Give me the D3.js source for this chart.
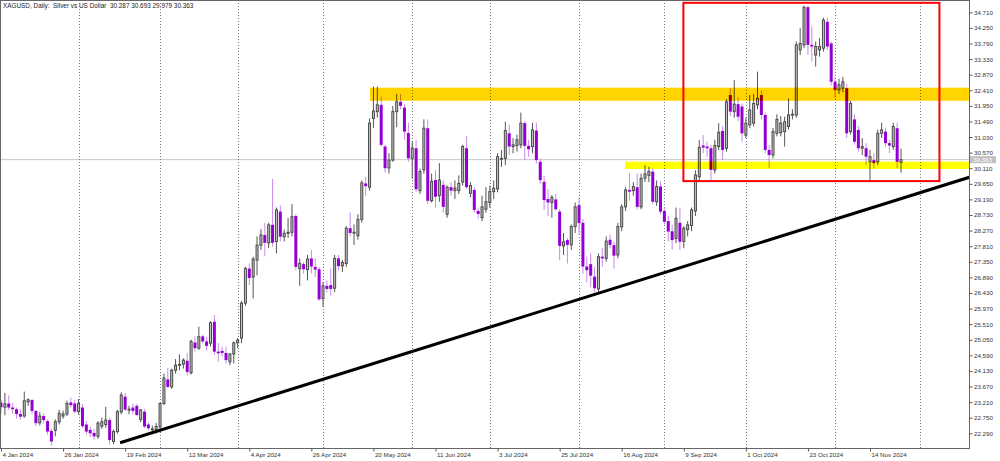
<!DOCTYPE html>
<html><head><meta charset="utf-8">
<script src="https://cdn.jsdelivr.net/npm/d3@7"></script>
<style>
html,body{margin:0;padding:0;background:#fff;}
svg{display:block;font-family:"Liberation Sans",Arial,sans-serif;}
</style></head><body>
<svg id="chart" width="1000" height="461"></svg>
<script>
const dates = [
"2024-01-04","2024-01-05","2024-01-08","2024-01-09","2024-01-10","2024-01-11","2024-01-12","2024-01-15","2024-01-16","2024-01-17",
"2024-01-18","2024-01-19","2024-01-22","2024-01-23","2024-01-24","2024-01-25","2024-01-26","2024-01-29","2024-01-30","2024-01-31",
"2024-02-01","2024-02-02","2024-02-05","2024-02-06","2024-02-07","2024-02-08","2024-02-09","2024-02-12","2024-02-13","2024-02-14",
"2024-02-15","2024-02-16","2024-02-19","2024-02-20","2024-02-21","2024-02-22","2024-02-23","2024-02-26","2024-02-27","2024-02-28",
"2024-02-29","2024-03-01","2024-03-04","2024-03-05","2024-03-06","2024-03-07","2024-03-08","2024-03-11","2024-03-12","2024-03-13",
"2024-03-14","2024-03-15","2024-03-18","2024-03-19","2024-03-20","2024-03-21","2024-03-22","2024-03-25","2024-03-26","2024-03-27",
"2024-03-28","2024-04-01","2024-04-02","2024-04-03","2024-04-04","2024-04-05","2024-04-08","2024-04-09","2024-04-10","2024-04-11",
"2024-04-12","2024-04-15","2024-04-16","2024-04-17","2024-04-18","2024-04-19","2024-04-22","2024-04-23","2024-04-24","2024-04-25",
"2024-04-26","2024-04-29","2024-04-30","2024-05-01","2024-05-02","2024-05-03","2024-05-06","2024-05-07","2024-05-08","2024-05-09",
"2024-05-10","2024-05-13","2024-05-14","2024-05-15","2024-05-16","2024-05-17","2024-05-20","2024-05-21","2024-05-22","2024-05-23",
"2024-05-24","2024-05-27","2024-05-28","2024-05-29","2024-05-30","2024-05-31","2024-06-03","2024-06-04","2024-06-05","2024-06-06",
"2024-06-07","2024-06-10","2024-06-11","2024-06-12","2024-06-13","2024-06-14","2024-06-17","2024-06-18","2024-06-19","2024-06-20",
"2024-06-21","2024-06-24","2024-06-25","2024-06-26","2024-06-27","2024-06-28","2024-07-01","2024-07-02","2024-07-03","2024-07-04",
"2024-07-05","2024-07-08","2024-07-09","2024-07-10","2024-07-11","2024-07-12","2024-07-15","2024-07-16","2024-07-17","2024-07-18",
"2024-07-19","2024-07-22","2024-07-23","2024-07-24","2024-07-25","2024-07-26","2024-07-29","2024-07-30","2024-07-31","2024-08-01",
"2024-08-02","2024-08-05","2024-08-06","2024-08-07","2024-08-08","2024-08-09","2024-08-12","2024-08-13","2024-08-14","2024-08-15",
"2024-08-16","2024-08-19","2024-08-20","2024-08-21","2024-08-22","2024-08-23","2024-08-26","2024-08-27","2024-08-28","2024-08-29",
"2024-08-30","2024-09-02","2024-09-03","2024-09-04","2024-09-05","2024-09-06","2024-09-09","2024-09-10","2024-09-11","2024-09-12",
"2024-09-13","2024-09-16","2024-09-17","2024-09-18","2024-09-19","2024-09-20","2024-09-23","2024-09-24","2024-09-25","2024-09-26",
"2024-09-27","2024-09-30","2024-10-01","2024-10-02","2024-10-03","2024-10-04","2024-10-07","2024-10-08","2024-10-09","2024-10-10",
"2024-10-11","2024-10-14","2024-10-15","2024-10-16","2024-10-17","2024-10-18","2024-10-21","2024-10-22","2024-10-23","2024-10-24",
"2024-10-25","2024-10-28","2024-10-29","2024-10-30","2024-10-31","2024-11-01","2024-11-04","2024-11-05","2024-11-06","2024-11-07",
"2024-11-08","2024-11-11","2024-11-12","2024-11-13","2024-11-14","2024-11-15","2024-11-18","2024-11-19","2024-11-20","2024-11-21",
"2024-11-22","2024-11-25","2024-11-26"];

const opens = [
23.20,23.06,23.17,23.05,23.00,22.86,22.80,23.22,23.27,22.95,
22.60,22.80,22.65,22.36,22.38,22.63,22.80,22.86,23.20,23.17,
22.93,23.05,22.55,22.39,22.30,22.20,22.50,22.55,22.68,22.05,
22.34,22.92,23.37,22.99,23.05,23.10,22.70,22.93,22.55,22.40,
22.40,22.48,23.17,23.88,23.66,24.15,24.30,24.33,24.43,24.08,
24.97,24.80,25.15,25.00,24.95,25.58,24.70,24.72,24.66,24.40,
24.63,24.96,25.10,26.13,27.15,26.90,27.40,27.84,28.14,27.91,
28.44,27.95,28.83,28.09,28.19,28.22,28.70,27.15,27.28,27.12,
27.45,27.20,27.13,26.27,26.64,26.66,26.57,27.45,27.23,27.30,
28.34,28.20,28.12,28.60,29.66,29.55,31.58,31.78,31.98,30.75,
30.12,30.35,31.78,32.07,31.90,31.15,30.40,30.70,29.45,30.06,
31.29,29.15,29.76,29.30,29.62,28.75,29.55,29.45,29.45,29.70,
30.70,29.37,29.47,28.85,28.65,28.90,29.10,29.42,29.50,30.38,
30.40,31.14,30.75,30.78,30.80,31.44,30.77,30.75,31.22,30.30,
29.71,29.20,29.10,29.19,28.83,27.82,27.99,27.85,28.39,29.02,
28.50,27.21,27.28,26.91,26.55,27.50,27.45,28.00,27.84,27.55,
28.38,28.97,29.47,29.45,29.55,28.97,29.82,29.90,30.01,29.12,
29.57,28.85,28.55,28.25,28.04,28.50,27.95,28.30,28.42,28.85,
29.86,30.78,30.75,30.70,30.06,30.75,31.21,30.70,32.27,31.78,
32.00,31.93,31.09,31.39,31.44,31.98,32.27,31.68,30.65,30.50,
31.14,31.16,31.19,31.34,31.68,31.68,33.60,33.75,34.86,33.75,
33.45,33.60,33.65,34.43,33.79,32.66,32.42,32.47,32.47,31.19,
31.55,31.24,30.70,30.70,30.30,30.35,30.30,31.14,31.19,30.85,
30.75,31.29,30.287];

const highs = [
23.28,23.48,23.41,23.18,23.05,23.00,23.52,23.32,23.30,22.98,
22.92,22.88,22.70,22.42,22.70,22.98,22.96,23.25,23.35,23.28,
23.30,23.15,22.65,22.50,22.42,22.65,22.75,23.07,22.75,22.40,
22.98,23.50,23.48,23.10,23.17,23.15,23.00,23.00,22.62,22.52,
22.60,23.20,24.05,24.22,24.20,24.48,24.62,24.50,24.65,25.05,
25.15,25.44,25.20,25.14,25.60,25.78,24.95,24.85,24.85,24.65,
25.00,25.10,26.20,27.20,27.30,27.50,28.10,28.31,28.50,28.50,
29.79,28.95,29.02,28.30,28.64,29.05,28.75,27.45,27.35,27.55,
27.70,27.45,27.20,26.75,26.80,27.15,27.55,27.55,27.40,28.40,
28.80,28.45,28.75,29.75,29.85,31.58,32.52,32.52,32.22,30.80,
30.55,31.95,32.30,32.30,32.00,31.45,30.90,30.95,30.10,31.55,
31.55,29.95,30.05,30.26,29.75,29.60,29.70,29.75,29.90,30.80,
31.05,29.70,29.55,28.95,29.30,29.55,29.60,29.75,30.55,30.65,
31.48,31.40,31.00,31.10,31.75,31.50,30.95,31.45,31.45,30.40,
29.88,29.50,29.32,29.35,28.90,28.20,28.05,28.45,29.10,29.25,
28.62,27.50,27.60,27.20,27.60,27.75,28.10,28.15,27.95,28.50,
29.05,29.55,29.96,29.70,29.95,29.95,30.20,30.15,30.10,29.75,
29.72,28.95,28.70,28.45,28.95,28.95,28.40,28.55,28.95,30.05,
30.94,31.09,30.89,30.80,30.95,31.44,31.35,32.15,32.47,32.71,
32.20,32.02,31.60,32.27,32.30,32.96,32.40,31.75,30.80,31.30,
31.70,31.65,31.63,32.17,31.85,33.85,34.24,34.90,34.90,34.29,
33.85,33.95,34.55,34.55,33.85,32.80,32.75,32.80,32.60,32.10,
31.70,31.35,31.00,30.85,30.65,30.55,31.25,31.45,31.30,30.95,
31.45,31.45,30.693];

const lows = [
22.88,22.82,22.98,22.86,22.73,22.70,22.75,23.10,22.85,22.50,
22.52,22.58,22.25,21.93,22.20,22.55,22.72,22.80,23.05,22.88,
22.85,22.45,22.25,22.18,22.10,22.12,22.42,22.45,21.95,21.97,
22.28,22.85,22.95,22.85,22.85,22.80,22.62,22.45,22.38,22.30,
22.28,22.31,23.12,23.62,23.60,24.05,24.15,24.20,24.00,24.02,
24.70,24.75,24.95,24.73,24.85,24.60,24.40,24.55,24.35,24.30,
24.35,24.80,24.95,26.05,26.66,26.27,26.95,27.70,27.52,27.75,
27.80,27.60,27.95,27.95,28.05,28.10,27.10,26.64,27.00,26.80,
27.00,26.90,26.20,26.02,26.45,26.35,26.45,27.10,27.05,27.20,
28.10,27.85,28.00,28.50,29.30,29.45,31.30,31.60,30.75,29.98,
29.95,30.30,31.32,31.85,30.95,30.30,29.80,29.40,29.35,29.95,
29.05,29.10,28.95,29.12,28.80,28.65,29.30,29.20,29.35,29.60,
29.50,29.25,28.80,28.62,28.55,28.80,28.95,29.20,29.40,30.15,
30.20,30.50,30.55,30.60,30.70,30.35,30.45,30.55,30.25,29.65,
28.88,28.70,28.65,28.85,27.40,27.55,27.30,27.70,28.20,28.15,
27.00,26.75,26.60,26.45,26.42,27.20,27.35,27.75,27.15,27.45,
28.25,28.85,29.15,29.30,28.90,28.90,29.70,29.70,29.05,29.00,
28.75,28.45,27.95,27.70,27.90,27.70,27.75,28.10,28.25,28.70,
29.75,30.55,30.45,29.76,29.95,30.65,30.35,30.60,31.65,31.60,
31.50,30.89,31.00,31.30,31.35,31.85,31.55,30.55,30.11,30.40,
31.05,31.05,30.75,31.25,31.55,31.60,33.45,33.65,33.45,33.25,
33.11,33.40,33.55,33.60,32.55,32.20,32.30,32.35,31.00,31.10,
30.80,30.60,30.50,30.21,29.71,30.10,30.20,31.00,30.75,30.55,
30.65,30.11,29.979];

const closes = [
23.06,23.16,23.05,23.00,22.86,22.78,23.25,23.28,22.95,22.59,
22.80,22.68,22.34,22.05,22.63,22.88,22.86,23.17,23.12,22.93,
23.17,22.50,22.34,22.29,22.20,22.59,22.63,22.68,22.09,22.34,
22.93,23.42,22.99,23.00,22.95,22.83,22.98,22.49,22.44,22.42,
22.49,23.17,23.92,23.66,24.15,24.30,24.32,24.45,24.10,25.00,
24.80,25.14,25.00,24.87,25.55,24.70,24.65,24.66,24.45,24.63,
24.96,25.04,26.13,27.15,26.87,27.43,27.84,28.14,27.91,28.44,
27.91,28.88,28.09,28.19,28.22,28.68,27.20,27.30,27.13,27.43,
27.21,27.12,26.24,26.64,26.55,26.55,27.45,27.22,27.33,28.34,
28.20,28.22,28.60,29.68,29.58,31.44,31.80,31.98,30.80,30.11,
30.35,31.78,32.07,31.95,31.19,30.40,30.70,29.49,30.01,31.29,
29.15,29.72,29.27,29.76,28.97,29.55,29.45,29.52,29.66,30.75,
29.55,29.60,28.88,28.76,28.97,29.12,29.42,29.52,30.45,30.40,
31.22,30.75,30.80,30.95,31.44,30.77,30.67,31.24,30.35,29.76,
29.17,29.10,29.25,28.90,27.82,27.94,27.85,28.39,28.97,28.49,
27.21,27.10,26.94,26.57,27.50,27.45,27.96,27.85,27.53,28.39,
28.97,29.47,29.42,29.57,28.97,29.81,29.94,30.01,29.12,29.57,
28.83,28.53,28.24,27.99,28.63,27.94,28.34,28.44,28.88,29.91,
30.72,30.72,30.70,30.06,30.78,31.17,30.65,32.07,31.78,32.00,
31.63,31.14,31.44,31.83,32.02,32.17,31.68,30.65,30.50,31.19,
31.55,31.44,31.48,31.68,31.70,33.75,33.79,34.86,33.75,33.70,
33.70,33.70,34.48,33.70,32.66,32.42,32.57,32.66,31.14,32.02,
30.89,30.70,30.75,30.45,30.45,30.26,31.14,31.24,30.85,30.78,
31.34,30.30,30.363];

const xTickLabels = ["4 Jan 2024","26 Jan 2024","19 Feb 2024","12 Mar 2024","4 Apr 2024","26 Apr 2024","20 May 2024","11 Jun 2024","3 Jul 2024","25 Jul 2024","16 Aug 2024","9 Sep 2024","1 Oct 2024","23 Oct 2024","14 Nov 2024"];
const xTickIndex = [0,16,32,48,64,80,96,112,128,144,160,176,192,208,224];
const yTickValues = [34.71,34.25,33.79,33.33,32.87,32.41,31.95,31.49,31.03,30.57,30.11,29.65,29.19,28.73,28.27,27.81,27.35,26.89,26.43,25.97,25.51,25.05,24.59,24.13,23.67,23.21,22.75,22.29];
const monthStartIndex = [20,41,61,83,106,126,149,171,192,215,237];
const titleText = "XAGUSD, Daily:  Silver vs US Dollar  30.287 30.693 29.979 30.363";
const lastPrice = 30.363;

// drawing objects (bar index, price)
const goldZone = [95.1, 32.486, 32.10];      // start index, top price, bottom price
const yellowZone = [160.9, 30.303, 30.087];
const redBox = [175.9, 34.99, 241.9, 29.73]; // idx1, top, idx2, bottom
const trendPoints = [[30.7, 22.01], [249.8, 29.85]];

const plotR = 969.5, plotB = 448.5;
const svg = d3.select("#chart");

const x = d3.scaleLinear().domain([0, 224]).range([1, 870]);
const y = d3.scaleLinear().domain([22.29, 34.71]).range([433.3, 12.3]);

svg.append("defs").append("clipPath").attr("id","clip")
  .append("rect").attr("x",0).attr("y",0).attr("width",plotR).attr("height",plotB);

const plot = svg.append("g").attr("clip-path","url(#clip)");

// current price line
plot.append("line").attr("x1",0).attr("x2",plotR)
  .attr("y1",y(lastPrice)).attr("y2",y(lastPrice))
  .attr("stroke","#c8c8c8").attr("stroke-width",1);

// month separators
plot.selectAll("line.sep").data(monthStartIndex).join("line").attr("class","sep")
  .attr("x1",d=>Math.round(x(d))+0.5).attr("x2",d=>Math.round(x(d))+0.5)
  .attr("y1",0).attr("y2",plotB)
  .attr("stroke","#7a7a7a").attr("stroke-width",1).attr("stroke-dasharray","1,2");

const idx = d3.range(dates.length);
const bull = i => closes[i] >= opens[i];

plot.selectAll("line.wick").data(idx).join("line").attr("class","wick")
  .attr("x1",i=>x(i)).attr("x2",i=>x(i))
  .attr("y1",i=>y(highs[i])).attr("y2",i=>y(lows[i]))
  .attr("stroke",i=>bull(i) ? "#555555" : "#c98ae9")
  .attr("stroke-width",1);

plot.selectAll("rect.body").data(idx).join("rect").attr("class","body")
  .attr("x",i=>bull(i) ? x(i)-1 : x(i)-1.5)
  .attr("width",i=>bull(i) ? 2 : 3)
  .attr("y",i=>y(Math.max(opens[i],closes[i])))
  .attr("height",i=>Math.max(0.8, Math.abs(y(opens[i]) - y(closes[i]))))
  .attr("fill",i=>bull(i) ? "#c4c4c4" : "#9400d3")
  .attr("stroke",i=>bull(i) ? "#4a4a4a" : "none")
  .attr("stroke-width",1);

// zones (multiply like MT4 background objects)
plot.append("rect")
  .attr("x",x(goldZone[0])).attr("width",plotR - x(goldZone[0]))
  .attr("y",y(goldZone[1])).attr("height",y(goldZone[2]) - y(goldZone[1]))
  .attr("fill","#ffd400").style("mix-blend-mode","multiply");
plot.append("rect")
  .attr("x",x(yellowZone[0])).attr("width",plotR - x(yellowZone[0]))
  .attr("y",y(yellowZone[1])).attr("height",y(yellowZone[2]) - y(yellowZone[1]))
  .attr("fill","#ffff00").style("mix-blend-mode","multiply");

// red box
plot.append("rect")
  .attr("x",x(redBox[0])).attr("y",y(redBox[1]))
  .attr("width",x(redBox[2]) - x(redBox[0])).attr("height",y(redBox[3]) - y(redBox[1]))
  .attr("fill","none").attr("stroke","#ff0000").attr("stroke-width",2);

// trend line
plot.append("path").datum(trendPoints)
  .attr("d", d3.line().x(d=>x(d[0])).y(d=>y(d[1])))
  .attr("fill","none").attr("stroke","#000").attr("stroke-width",3);

// frame
svg.append("rect").attr("x",0.5).attr("y",0.5).attr("width",plotR-0.5).attr("height",plotB-0.5)
  .attr("fill","none").attr("stroke","#666").attr("stroke-width",1);

// y axis
const yAxis = svg.append("g").attr("transform",`translate(${plotR},0)`)
  .call(d3.axisRight(y).tickValues(yTickValues).tickFormat(d3.format(".3f")).tickSize(3).tickPadding(1.5));
yAxis.select(".domain").remove();
yAxis.selectAll("line").attr("stroke","#555");
yAxis.selectAll("text").attr("font-size","6.2px").attr("fill","#333").attr("font-family","Liberation Sans, Arial, sans-serif");

// x axis
const xAxis = svg.append("g").attr("transform",`translate(0,${plotB})`)
  .call(d3.axisBottom(x).tickValues(xTickIndex).tickFormat((d,k)=>xTickLabels[k]).tickSize(3).tickPadding(1.5));
xAxis.select(".domain").remove();
xAxis.selectAll("line").attr("stroke","#555");
xAxis.selectAll("text").attr("font-size","6.2px").attr("fill","#333")
  .attr("text-anchor","start").attr("dx","1")
  .attr("font-family","Liberation Sans, Arial, sans-serif");

// last price label on axis
svg.append("rect").attr("x",plotR+0.5).attr("y",y(lastPrice)-3.5).attr("width",26).attr("height",7)
  .attr("fill","#c0c0c0");
svg.append("text").attr("x",plotR+3.5).attr("y",y(lastPrice)+2.2)
  .attr("font-size","6.2px").attr("fill","#ffffff").text(d3.format(".3f")(lastPrice));

// title
svg.append("text").attr("x",3).attr("y",7.8).attr("font-size","6.4px").attr("fill","#222")
  .style("white-space","pre")
  .text(titleText);
</script>
</body></html>
